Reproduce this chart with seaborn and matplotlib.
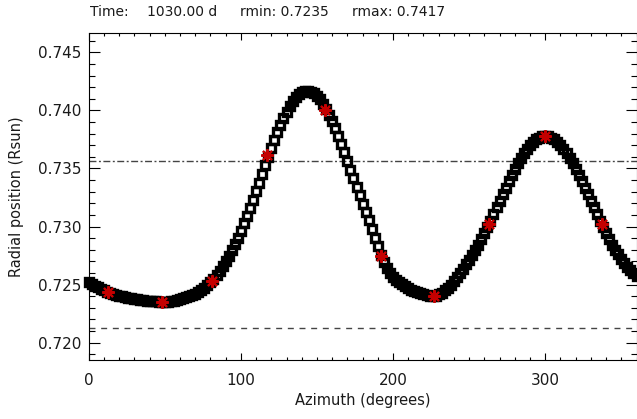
import numpy as np
import pandas as pd
import matplotlib
matplotlib.use("Agg")
import matplotlib.pyplot as plt
from matplotlib.ticker import MultipleLocator, FixedLocator
import seaborn as sns

# ---------------- data ----------------
azimuth = np.arange(0, 362, 2)
radius = [
    0.72520, 0.72505, 0.72490, 0.72476, 0.72463, 0.72450, 0.72439, 0.72429, 0.72420, 0.72412,
    0.72405, 0.72399, 0.72393, 0.72388, 0.72383, 0.72378, 0.72374, 0.72370, 0.72366, 0.72362,
    0.72359, 0.72357, 0.72355, 0.72353, 0.72352, 0.72352, 0.72353, 0.72356, 0.72361, 0.72368,
    0.72375, 0.72382, 0.72390, 0.72399, 0.72410, 0.72422, 0.72436, 0.72452, 0.72471, 0.72493,
    0.72518, 0.72547, 0.72580, 0.72618, 0.72659, 0.72702, 0.72747, 0.72795, 0.72848, 0.72904,
    0.72964, 0.73027, 0.73093, 0.73161, 0.73232, 0.73305, 0.73379, 0.73454, 0.73529, 0.73603,
    0.73675, 0.73745, 0.73813, 0.73876, 0.73935, 0.73989, 0.74037, 0.74078, 0.74112, 0.74139,
    0.74157, 0.74168, 0.74170, 0.74163, 0.74149, 0.74126, 0.74096, 0.74058, 0.74014, 0.73963,
    0.73906, 0.73845, 0.73780, 0.73711, 0.73639, 0.73566, 0.73491, 0.73417, 0.73342, 0.73268,
    0.73196, 0.73125, 0.73052, 0.72978, 0.72903, 0.72829, 0.72757, 0.72693, 0.72641, 0.72600,
    0.72568, 0.72542, 0.72520, 0.72501, 0.72484, 0.72469, 0.72455, 0.72443, 0.72433, 0.72424,
    0.72416, 0.72409, 0.72404, 0.72402, 0.72405, 0.72415, 0.72430, 0.72450, 0.72473, 0.72500,
    0.72530, 0.72563, 0.72598, 0.72635, 0.72674, 0.72714, 0.72755, 0.72798, 0.72844, 0.72893,
    0.72944, 0.72997, 0.73051, 0.73107, 0.73164, 0.73221, 0.73279, 0.73335, 0.73391, 0.73445,
    0.73497, 0.73546, 0.73592, 0.73634, 0.73671, 0.73703, 0.73730, 0.73752, 0.73767, 0.73777,
    0.73780, 0.73777, 0.73767, 0.73752, 0.73730, 0.73703, 0.73671, 0.73634, 0.73592, 0.73546,
    0.73497, 0.73445, 0.73391, 0.73335, 0.73279, 0.73221, 0.73164, 0.73107, 0.73051, 0.72997,
    0.72944, 0.72893, 0.72844, 0.72800, 0.72760, 0.72722, 0.72687, 0.72655, 0.72625, 0.72597,
    0.72570,
]
tracer_az = [12.5, 47.9, 81.1, 117.2, 155.3, 192.1, 226.7, 262.8, 299.7, 337.2]
tracer_r = [0.72435, 0.72353, 0.72527, 0.73620, 0.74000, 0.72750, 0.72403, 0.73020, 0.73779, 0.73020]

upper_level = 0.73562
lower_level = 0.72130

x_ticks = [0, 100, 200, 300]
x_ticklabels = ["0", "100", "200", "300"]
y_ticks = [0.720, 0.725, 0.730, 0.735, 0.740, 0.745]
y_ticklabels = ["0.720", "0.725", "0.730", "0.735", "0.740", "0.745"]
x_range = (0, 360)
y_range = (0.7185, 0.7467)
x_label = "Azimuth (degrees)"
y_label = "Radial position (Rsun)"
title_parts = ["Time:", "1030.00 d", "rmin: 0.7235", "rmax: 0.7417"]

# ---------------- style ----------------
sns.set_style("ticks")
plt.rcParams["font.family"] = ["DejaVu Sans"]
plt.rcParams["text.color"] = "#1a1a1a"
plt.rcParams["axes.labelcolor"] = "#1a1a1a"

W, H = 637, 419
fig = plt.figure(figsize=(W / 100, H / 100), dpi=100)
fig.patch.set_facecolor("white")
ax = fig.add_axes([88.7 / W, 1 - 360 / H, (636.5 - 88.7) / W, (360 - 32.7) / H])
ax.set_facecolor("white")

curve = pd.DataFrame({"az": azimuth, "r": radius})
tracers = pd.DataFrame({"az": tracer_az, "r": tracer_r})

ax.axhline(upper_level, color="#444444", lw=1.0, linestyle=(0, (5, 1.8, 1.4, 1.8)), zorder=1)
ax.axhline(lower_level, color="#444444", lw=1.0, linestyle=(0, (4.3, 4.1)), zorder=1)

sns.lineplot(data=curve, x="az", y="r", ax=ax, estimator=None, sort=False,
             linestyle="none", marker="s", markersize=5.3,
             markerfacecolor="none", markeredgecolor="black", markeredgewidth=2.4,
             color="black", clip_on=False, zorder=3)

sns.lineplot(data=tracers, x="az", y="r", ax=ax, estimator=None, sort=False,
             linestyle="none", marker=(8, 2, 0), markersize=9,
             markeredgecolor="#c40000", markeredgewidth=1.5,
             color="#c40000", clip_on=False, zorder=4)

ax.set_xlim(*x_range)
ax.set_ylim(*y_range)
ax.xaxis.set_major_locator(FixedLocator(x_ticks))
ax.xaxis.set_minor_locator(MultipleLocator(10))
ax.yaxis.set_major_locator(FixedLocator(y_ticks))
ax.yaxis.set_minor_locator(MultipleLocator(0.001))
ax.set_xticklabels(x_ticklabels)
ax.set_yticklabels(y_ticklabels)

ax.tick_params(which="both", direction="in", top=True, right=True,
               width=0.8, color="black", labelcolor="#1a1a1a")
ax.tick_params(axis="x", which="major", length=4.7, pad=9, labelsize=11)
ax.tick_params(axis="x", which="minor", length=2.4)
ax.tick_params(axis="y", which="major", length=7.9, pad=5, labelsize=11)
ax.tick_params(axis="y", which="minor", length=4.0)

for sp in ax.spines.values():
    sp.set_visible(True)
    sp.set_linewidth(0.8)
    sp.set_color("black")

ax.set_xlabel(x_label, fontsize=10.5, va="center")
ax.set_ylabel(y_label, fontsize=10.5, va="center")
ax.xaxis.set_label_coords(0.5, (360 - 400) / (360 - 32.7))
ax.yaxis.set_label_coords((16.7 - 88.7) / (636.5 - 88.7), 0.5)

title_x = [90, 146.7, 240, 351.7]
for xp, s in zip(title_x, title_parts):
    fig.text(xp / W, 1 - 11.7 / H, s, fontsize=10, ha="left", va="center")

fig.savefig("out.png", dpi=100, facecolor="white")
